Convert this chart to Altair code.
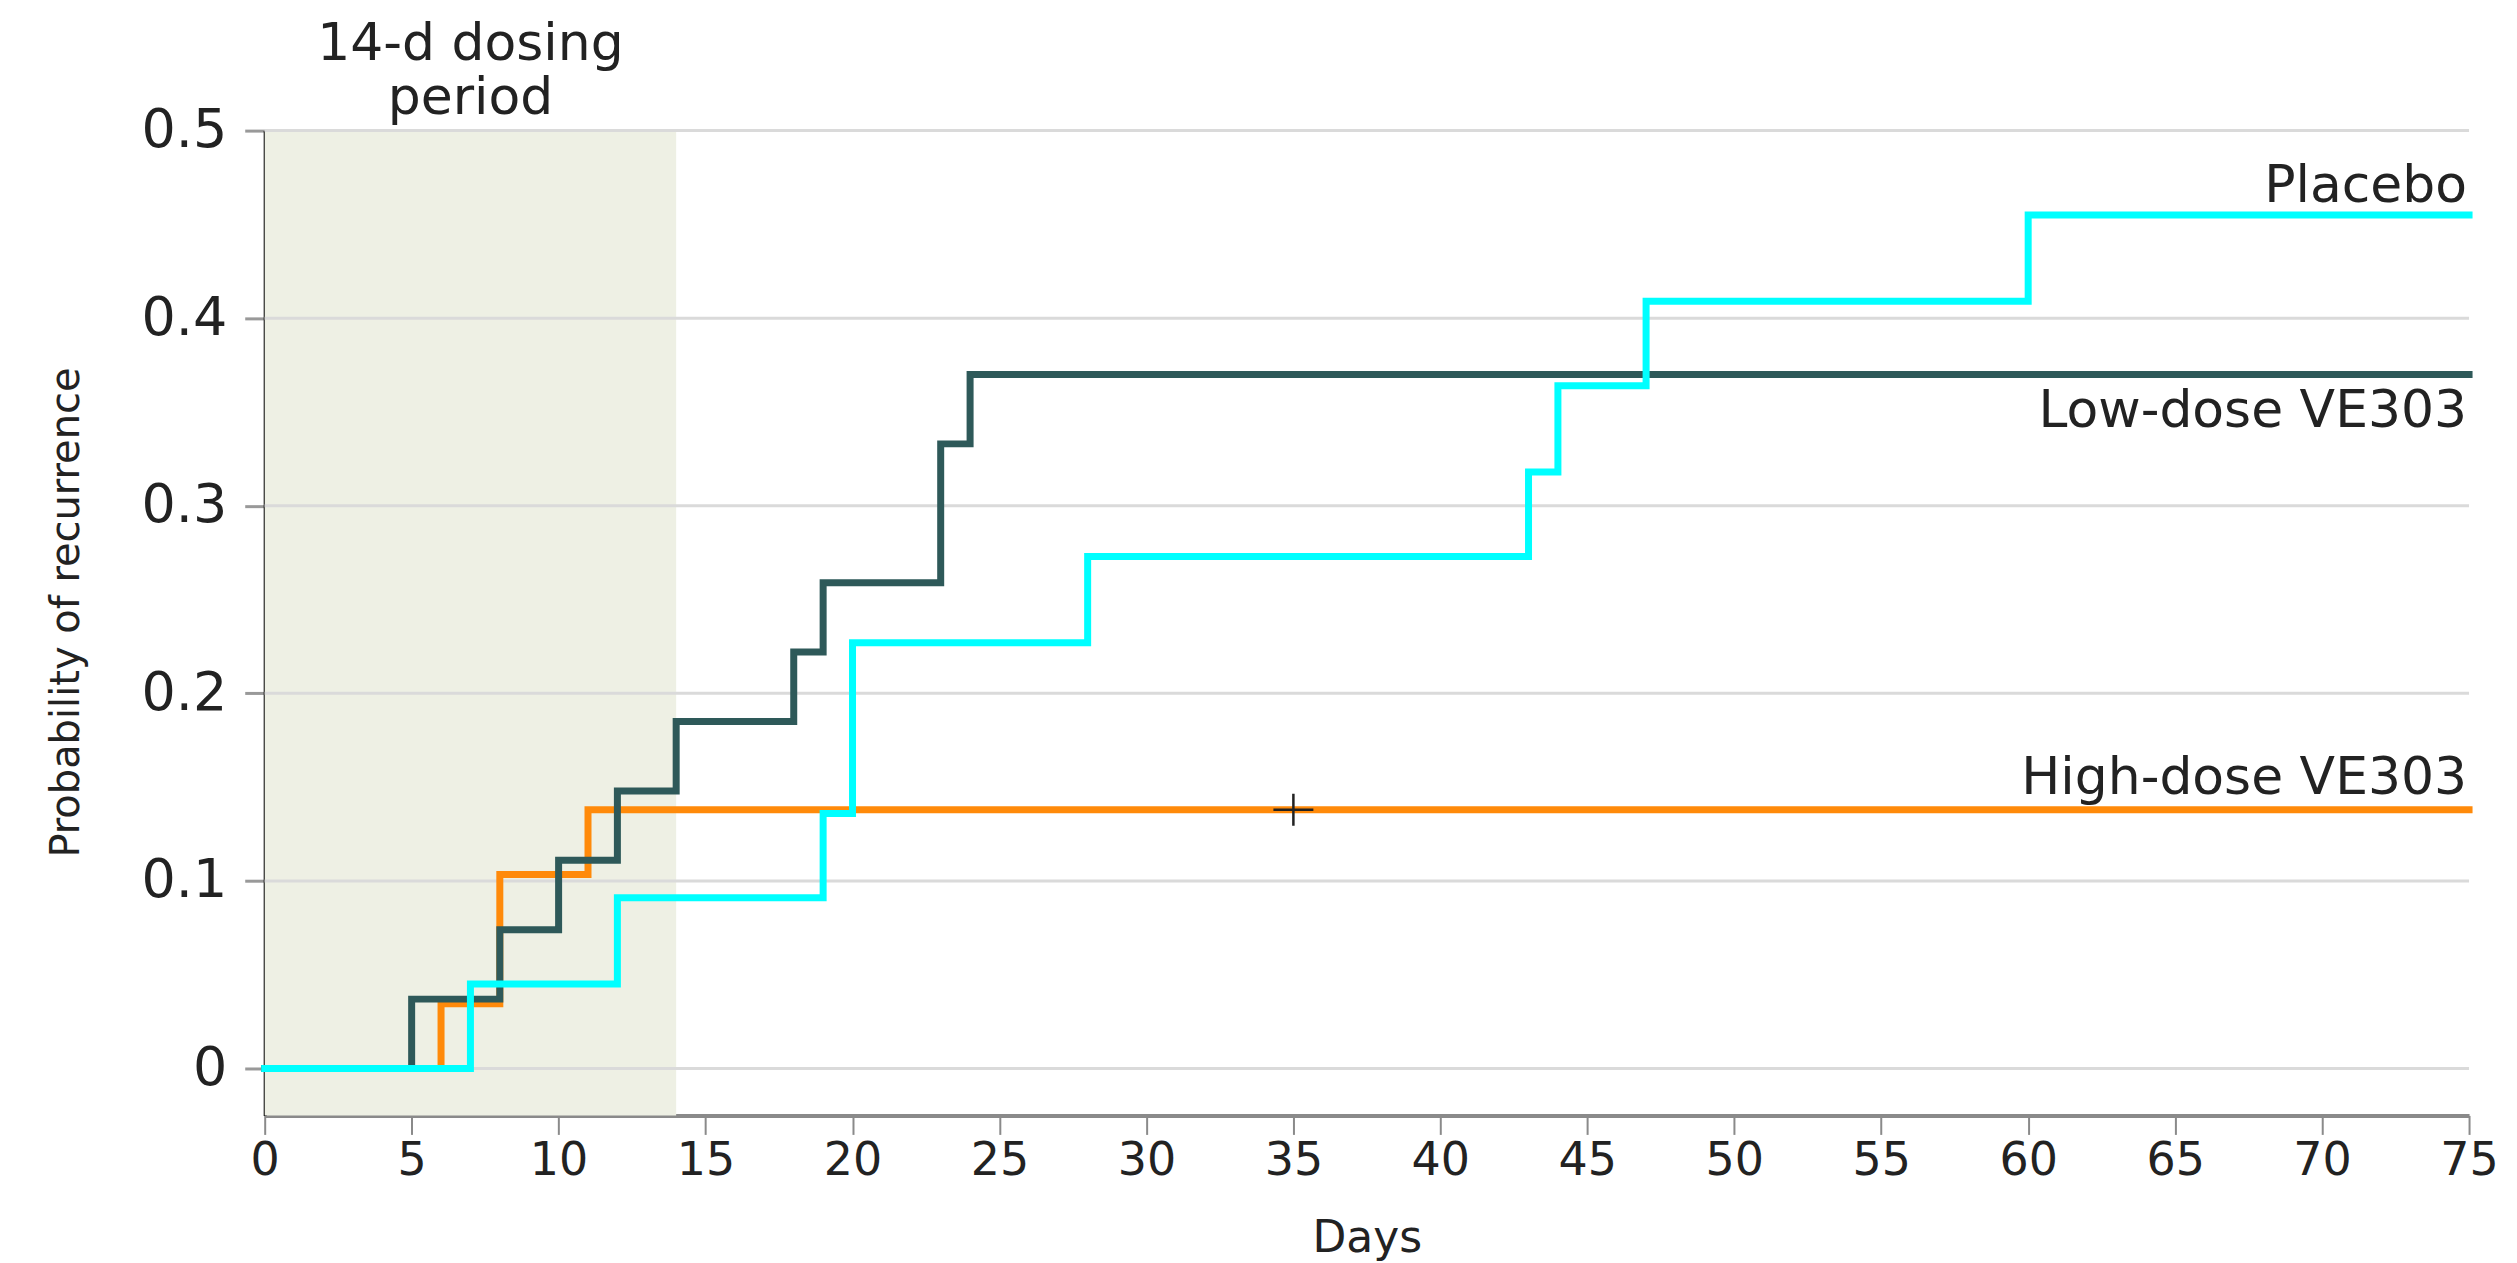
import altair as alt
import pandas as pd

# ---- data ----
day_ticks = list(range(0, 80, 5))
prob_ticks = [0, 0.1, 0.2, 0.3, 0.4, 0.5]

dosing_period = [0, 14]
dosing_label = ["14-d dosing", "period"]

high_days = [0, 6, 8, 11, 75]
high_prob = [0, 0.0345, 0.1034, 0.1379, 0.1379]

low_days = [0, 5, 8, 10, 12, 14, 18, 19, 23, 24, 75]
low_prob = [0, 0.037, 0.074, 0.111, 0.148, 0.185, 0.222, 0.259, 0.333, 0.370, 0.370]

placebo_days = [0, 7, 12, 19, 20, 28, 43, 44, 47, 60, 75]
placebo_prob = [0, 0.045, 0.091, 0.136, 0.227, 0.273, 0.318, 0.364, 0.409, 0.455, 0.455]

censor_days = [35]
censor_prob = [0.1379]

series_names = ["Placebo", "Low-dose VE303", "High-dose VE303"]
series_colors = ["#00FFFF", "#2E5959", "#FF8A0A"]

Y_MIN, Y_MAX = -0.025, 0.5
X_MIN, X_MAX = 0, 75
W, H = 2207, 986
FONT = "DejaVu Sans"

xs = alt.Scale(domain=[X_MIN, X_MAX], nice=False, zero=False)
ys = alt.Scale(domain=[Y_MIN, Y_MAX], nice=False, zero=False)

x_axis = alt.Axis(
    values=day_ticks, format="d", grid=False, labelFlush=False, labelOverlap=False,
    domainColor="#8a8a8a", domainWidth=4, tickColor="#8a8a8a", tickSize=19, tickWidth=2,
    labelFontSize=46, labelPadding=4, labelColor="#222222", labelFont=FONT,
    title="Days", titleFontSize=44, titleFont=FONT, titleFontWeight="normal",
    titleColor="#222222", titleY=123, titleBaseline="middle",
)
y_axis = alt.Axis(
    values=prob_ticks, grid=False,
    labelExpr="datum.value == 0 ? '0' : format(datum.value, '.1f')",
    domainColor="#000000", domainWidth=3, tickColor="#999999", tickSize=20, tickWidth=3,
    labelFontSize=54, labelPadding=18, labelColor="#222222", labelFont=FONT,
    title="Probability of recurrence", titleFontSize=40, titleFont=FONT,
    titleFontWeight="normal", titleColor="#222222", titleAngle=270,
    titleX=-198, titleY=482, titleAlign="center", titleBaseline="middle",
)

X = lambda f: alt.X(f, type="quantitative", scale=xs, axis=x_axis, title="Days")
Y = lambda f: alt.Y(f, type="quantitative", scale=ys, axis=y_axis, title="Probability of recurrence")

# shaded dosing period
rect_df = pd.DataFrame({"day": [dosing_period[0]], "day2": [dosing_period[1]],
                        "prob": [Y_MIN], "prob2": [Y_MAX]})
rect = alt.Chart(rect_df).mark_rect(color="#EEF0E4").encode(
    x=X("day"), x2="day2", y=Y("prob"), y2="prob2")

# gridlines
grid_df = pd.DataFrame({"prob": prob_ticks})
grid = alt.Chart(grid_df).mark_rule(color="#DADADA", strokeWidth=3).encode(y=Y("prob"))

def step_line(days, probs, color):
    df = pd.DataFrame({"day": days, "prob": probs})
    return alt.Chart(df).mark_line(interpolate="step-after", color=color,
                                   strokeWidth=7, strokeCap="square").encode(
        x=X("day"), y=Y("prob"))

high = step_line(high_days, high_prob, series_colors[2])
low = step_line(low_days, low_prob, series_colors[1])
plac = step_line(placebo_days, placebo_prob, series_colors[0])

censor_df = pd.DataFrame({"day": censor_days, "prob": censor_prob})
censor = alt.Chart(censor_df).mark_point(
    shape="M -1 0 L 1 0 M 0 -0.8 L 0 0.8", filled=False, color="#222222",
    strokeWidth=2.5, size=1600, opacity=1).encode(x=X("day"), y=Y("prob"))

# series labels
def label(text, yval, dy, baseline="alphabetic"):
    df = pd.DataFrame({"day": [X_MAX], "prob": [yval], "txt": [text]})
    return alt.Chart(df).mark_text(align="right", baseline=baseline, dy=dy, dx=-2,
                                   fontSize=52, font=FONT, color="#222222").encode(
        x=X("day"), y=Y("prob"), text="txt:N")

lab_p = label(series_names[0], placebo_prob[-1], -13)
lab_l = label(series_names[1], low_prob[-1], 53)
lab_h = label(series_names[2], high_prob[-1], -16)

dose_df = pd.DataFrame({"day": [(dosing_period[0] + dosing_period[1]) / 2],
                        "prob": [Y_MAX], "txt": [dosing_label]})
dose_txt = alt.Chart(dose_df).mark_text(align="center", baseline="middle", dy=-87,
                                        fontSize=52, font=FONT, color="#222222",
                                        lineHeight=54).encode(
    x=X("day"), y=Y("prob"), text="txt")

chart = alt.layer(rect, grid, high, low, plac, censor, lab_p, lab_l, lab_h, dose_txt).properties(
    width=W, height=H,
    background="white",
    padding={"left": 257, "top": 122, "right": 40, "bottom": 146},
    autosize=alt.AutoSizeParams(type="none"),
).configure_view(stroke=None)

chart.save("out.html", embed_options={"renderer": "svg", "actions": False})
